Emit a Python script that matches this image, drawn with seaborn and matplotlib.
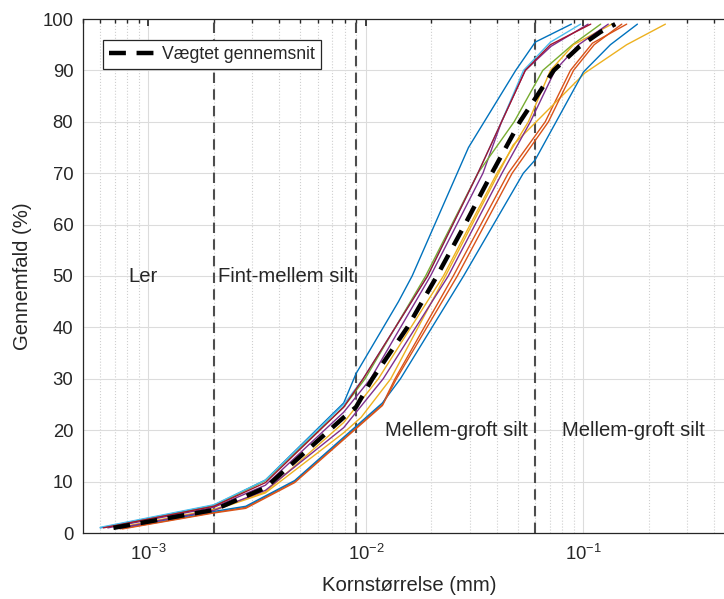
import pandas as pd
import seaborn as sns
import matplotlib.pyplot as plt

# Kornkurver: kornstørrelse (mm) og gennemfald (%)
blue_a_x = [0.0006, 0.002, 0.00345, 0.0079, 0.009, 0.0141, 0.0163, 0.0296, 0.0488, 0.060, 0.088]
blue_a_y = [1.0, 5.4, 10.3, 25.3, 31, 45, 50, 75, 90, 95.5, 99]

orange_a_x = [0.00074, 0.002, 0.0028, 0.0047, 0.0119, 0.0136, 0.0252, 0.0451, 0.0667, 0.0871, 0.11, 0.158]
orange_a_y = [0.8, 4.0, 5.0, 10.0, 25, 30, 50, 70, 80, 90, 95.3, 99]

yellow_a_x = [0.0007, 0.002, 0.00345, 0.0079, 0.0095, 0.013, 0.0232, 0.0475, 0.1015, 0.158, 0.238]
yellow_a_y = [0.9, 4.4, 7.8, 19.5, 22.5, 30, 50, 75.5, 89.5, 95, 99]

purple_a_x = [0.00065, 0.002, 0.00345, 0.0079, 0.0105, 0.0198, 0.0345, 0.042, 0.054, 0.071, 0.105]
purple_a_y = [1.0, 5.0, 9.3, 23.5, 30, 50, 70, 80, 90, 94.7, 99]

green_x = [0.00063, 0.002, 0.00345, 0.0079, 0.0099, 0.0188, 0.0327, 0.048, 0.065, 0.089, 0.12]
green_y = [1.1, 5.3, 10.2, 24.5, 30, 50, 70, 80, 90, 95, 99]

lightblue_x = [0.0006, 0.002, 0.00345, 0.0079, 0.0097, 0.0192, 0.0327, 0.042, 0.053, 0.0705, 0.097]
lightblue_y = [1.1, 5.5, 10.3, 25, 30, 50, 70, 80, 90, 95.5, 99]

darkred_x = [0.00062, 0.002, 0.00345, 0.0079, 0.0097, 0.0192, 0.0327, 0.054, 0.0705, 0.108]
darkred_y = [1.0, 5.2, 9.8, 24.5, 30, 50, 70, 90, 95, 99]

blue_b_x = [0.00072, 0.002, 0.0028, 0.0047, 0.0119, 0.0144, 0.0281, 0.0529, 0.06, 0.1, 0.133, 0.177]
blue_b_y = [0.9, 4.2, 5.2, 10.2, 25.3, 30, 50, 70, 72.6, 89.7, 95, 99]

orange_b_x = [0.00076, 0.002, 0.0028, 0.0047, 0.0119, 0.0138, 0.0263, 0.047, 0.069, 0.09, 0.112, 0.15]
orange_b_y = [0.8, 3.9, 4.8, 9.8, 24.8, 30, 50, 70, 80, 90, 95, 99]

yellow_b_x = [0.0007, 0.002, 0.00345, 0.0079, 0.0114, 0.0227, 0.040, 0.0558, 0.0705, 0.09, 0.135]
yellow_b_y = [0.9, 4.6, 8.0, 21.5, 30, 50, 70, 80, 90, 95, 99]

purple_b_x = [0.00072, 0.002, 0.00345, 0.0079, 0.012, 0.0239, 0.0422, 0.057, 0.074, 0.095, 0.13]
purple_b_y = [0.9, 4.4, 8.3, 20.5, 30, 50, 70, 80, 90, 95, 99]

# vægtet gennemsnit
avg_x = [0.00069, 0.002, 0.00345, 0.0079, 0.009, 0.0107, 0.0155, 0.0212, 0.0285, 0.0379, 0.051, 0.073, 0.095, 0.12, 0.14]
avg_y = [1.0, 4.5, 8.8, 22.5, 24.5, 30, 40, 50, 60, 70, 80, 90, 94.5, 97.5, 99]

# grænser mellem fraktioner (mm)
limits = [0.002, 0.009, 0.06]

samples = [
    (blue_a_x, blue_a_y), (orange_a_x, orange_a_y), (yellow_a_x, yellow_a_y),
    (purple_a_x, purple_a_y), (green_x, green_y), (lightblue_x, lightblue_y),
    (darkred_x, darkred_y), (blue_b_x, blue_b_y), (orange_b_x, orange_b_y),
    (yellow_b_x, yellow_b_y), (purple_b_x, purple_b_y),
]
matlab = ["#0072BD", "#D95319", "#EDB120", "#7E2F8E", "#77AC30", "#4DBEEE", "#A2142F"]
colors = [matlab[i % 7] for i in range(len(samples))]

rows = []
for i, (xs, ys) in enumerate(samples):
    for x, y in zip(xs, ys):
        rows.append({"d": x, "p": y, "prove": i})
df = pd.DataFrame(rows)

sns.set_theme(style="white")
plt.rcParams["font.family"] = ["Liberation Sans", "DejaVu Sans"]
plt.rcParams["mathtext.fontset"] = "custom"
plt.rcParams["mathtext.rm"] = "Liberation Sans"

fig = plt.figure(figsize=(7.24, 5.99), dpi=100)
ax = fig.add_axes([83 / 724, 66 / 599, 652.5 / 724, 514 / 599])
ax.set_xscale("log")

sns.lineplot(data=df, x="d", y="p", hue="prove", palette=colors, estimator=None,
             sort=False, legend=False, lw=1.0, ax=ax)
sns.lineplot(x=avg_x, y=avg_y, color="black", lw=3.2, sort=False, estimator=None,
             label="Vægtet gennemsnit", ax=ax)
ax.lines[-1].set_dashes((3.8, 2.4))

for v in limits:
    ax.axvline(v, color="#4d4d4d", lw=1.5, dashes=(5, 3), zorder=1)

ax.text(0.00081, 50, "Ler", va="center", ha="left", fontsize=14.6, color="#262626")
ax.text(0.00208, 50, "Fint-mellem silt", va="center", ha="left", fontsize=14.6, color="#262626")
ax.text(0.0122, 20, "Mellem-groft silt", va="center", ha="left", fontsize=14.6, color="#262626")
ax.text(0.080, 20, "Mellem-groft silt", va="center", ha="left", fontsize=14.6, color="#262626")

ax.set_xlim(5e-4, 0.5)
ax.set_ylim(0, 100)
ax.set_yticks(range(0, 101, 10))
ax.grid(which="major", color="#dcdcdc", lw=0.8)
ax.grid(which="minor", axis="x", color="#cfcfcf", ls=":", lw=0.8)
ax.set_axisbelow(True)
for s in ax.spines.values():
    s.set_color("#262626")
    s.set_linewidth(0.9)
ax.tick_params(which="both", direction="in", top=True, right=True, color="#262626",
               labelsize=13.3, labelcolor="#262626")
ax.tick_params(which="major", length=5)
ax.tick_params(which="minor", length=3)
ax.tick_params(axis="x", which="both", pad=7.8)
ax.tick_params(axis="y", which="both", pad=7.0)

ax.set_xlabel("Kornstørrelse (mm)", fontsize=14.6, color="#262626", labelpad=9)
ax.set_ylabel("Gennemfald (%)", fontsize=14.6, color="#262626", labelpad=7.6)

leg = ax.legend(loc="upper left", bbox_to_anchor=(0.03, 0.96), fontsize=12.7,
                fancybox=False, framealpha=1, edgecolor="#262626", handlelength=2.7,
                borderpad=0.35, borderaxespad=0, handletextpad=0.3)
leg.get_frame().set_linewidth(0.9)

fig.savefig("out.png", dpi=100)
